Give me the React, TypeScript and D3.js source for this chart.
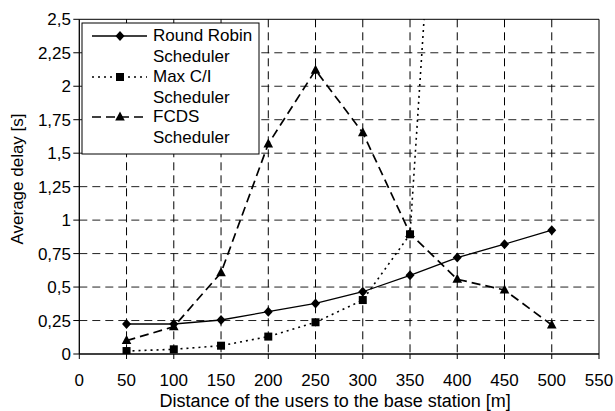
import React from 'react'
import * as d3 from 'd3'

const distances = [50, 100, 150, 200, 250, 300, 350, 400, 450, 500]
const roundRobin = [0.224, 0.224, 0.254, 0.316, 0.378, 0.465, 0.588, 0.72, 0.82, 0.925]
const maxCI = [0.022, 0.035, 0.062, 0.13, 0.237, 0.403, 0.894, 6.3]
const fcds = [0.1, 0.204, 0.607, 1.569, 2.12, 1.653, 0.9, 0.558, 0.478, 0.217]

const xTicks = [0, 50, 100, 150, 200, 250, 300, 350, 400, 450, 500, 550]
const yTicks = [0, 0.25, 0.5, 0.75, 1, 1.25, 1.5, 1.75, 2, 2.25, 2.5]

const W = 615, H = 411
const left = 79.3, right = 599, top = 19.3, bottom = 354
const font = 'Arial, "Liberation Sans", sans-serif'

const fmt = (v: number) => String(v).replace('.', ',')

function Marker({ kind, x, y }: { kind: string; x: number; y: number }) {
  if (kind === 'diamond') {
    return <path d={`M${x},${y - 5}L${x + 4.5},${y}L${x},${y + 5}L${x - 4.5},${y}Z`} fill="#000" />
  }
  if (kind === 'square') {
    return <rect x={x - 4} y={y - 4} width={8} height={8} fill="#000" />
  }
  return <path d={`M${x},${y - 5.5}L${x + 4.8},${y + 3.5}L${x - 4.8},${y + 3.5}Z`} fill="#000" />
}

export default function App() {
  const x = d3.scaleLinear().domain([0, 550]).range([left, right])
  const y = d3.scaleLinear().domain([0, 2.5]).range([bottom, top])

  const series = [
    { name: ['FCDS', 'Scheduler'], values: fcds, kind: 'triangle', dash: '9,5', width: 1.7 },
    { name: ['Max C/I', 'Scheduler'], values: maxCI, kind: 'square', dash: '2,4', width: 1.6 },
    { name: ['Round Robin', 'Scheduler'], values: roundRobin, kind: 'diamond', dash: null, width: 1.3 },
  ]

  const line = d3.line<number>()
    .x((d, i) => x(distances[i]))
    .y(d => y(d))

  const legendOrder = [series[2], series[1], series[0]]
  const legendY = [35, 76, 116]

  return (
    <svg width={W} height={H} style={{ position: 'absolute', left: 0, top: 0, background: '#fff' }}
      fontFamily={font}>
      <defs>
        <clipPath id="plot">
          <rect x={left} y={top} width={right - left} height={bottom - top} />
        </clipPath>
      </defs>
      <rect x={0} y={0} width={W} height={H} fill="#fff" />

      {/* grid */}
      {yTicks.slice(1, -1).map(t => (
        <line key={'gy' + t} x1={left} x2={right} y1={y(t)} y2={y(t)}
          stroke="#222" strokeWidth={1} strokeDasharray="8,5" />
      ))}
      {xTicks.slice(1, -1).map(t => (
        <line key={'gx' + t} x1={x(t)} x2={x(t)} y1={top} y2={bottom}
          stroke="#000" strokeWidth={1} strokeDasharray="8,5" />
      ))}

      {/* plot border */}
      <line x1={left} x2={right} y1={top} y2={top} stroke="#000" />
      <line x1={right} x2={right} y1={top} y2={bottom} stroke="#000" />

      {/* series */}
      <g clipPath="url(#plot)">
        {series.map(s => (
          <g key={s.kind}>
            <path d={line(s.values) || ''} fill="none" stroke="#000" strokeWidth={s.width}
              strokeDasharray={s.dash || undefined} />
            {s.values.map((v, i) => v <= 2.5 ? (
              <Marker key={i} kind={s.kind} x={x(distances[i])} y={y(v)} />
            ) : null)}
          </g>
        ))}
      </g>

      {/* axes */}
      <line x1={left} x2={right} y1={bottom} y2={bottom} stroke="#000" strokeWidth={1.3} />
      <line x1={left} x2={left} y1={top} y2={bottom} stroke="#000" strokeWidth={1.3} />
      {xTicks.map(t => (
        <g key={'xt' + t}>
          <line x1={x(t)} x2={x(t)} y1={bottom} y2={bottom + 5} stroke="#000" />
          <text x={x(t)} y={386} textAnchor="middle" fontSize={17}>{t}</text>
        </g>
      ))}
      {yTicks.map(t => (
        <g key={'yt' + t}>
          <line x1={left - 6} x2={left} y1={y(t)} y2={y(t)} stroke="#000" />
          <text x={71} y={y(t) + 6} textAnchor="end" fontSize={17}>{fmt(t)}</text>
        </g>
      ))}

      <text x={(left + right) / 2 - 4} y={407} textAnchor="middle" fontSize={18}>
        Distance of the users to the base station [m]
      </text>
      <text transform="translate(23,179) rotate(-90)" textAnchor="middle" fontSize={17}>
        Average delay [s]
      </text>

      {/* legend */}
      <rect x={82} y={23} width={177} height={131} fill="#fff" stroke="#000" strokeWidth={1} />
      {legendOrder.map((s, i) => (
        <g key={'lg' + s.kind}>
          <line x1={92} x2={147} y1={legendY[i] + 1} y2={legendY[i] + 1} stroke="#000"
            strokeWidth={s.width} strokeDasharray={s.dash || undefined} />
          <Marker kind={s.kind} x={120} y={legendY[i] + 1} />
          <text x={153} y={legendY[i] + 6} fontSize={17}>{s.name[0]}</text>
          <text x={153} y={legendY[i] + 27} fontSize={17}>{s.name[1]}</text>
        </g>
      ))}
    </svg>
  )
}
